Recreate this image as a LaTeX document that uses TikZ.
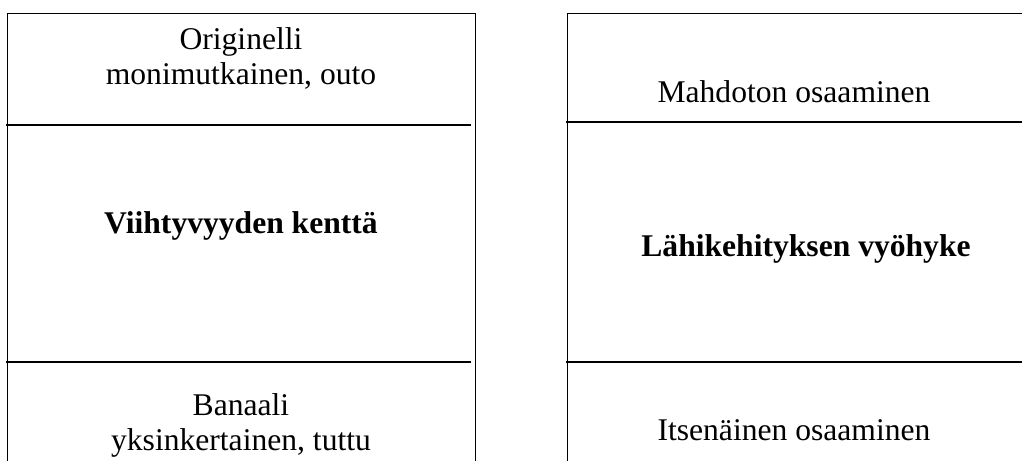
\documentclass[tikz,border=0pt]{standalone}
\usepackage{fontspec}
\setmainfont{Liberation Serif}
\begin{document}
\begin{tikzpicture}[x=1pt,y=-1pt,
  frame/.style={line width=1pt},
  divider/.style={line width=1.6pt},
  txt/.style={font=\fontsize{31.6}{36}\selectfont, anchor=base, inner sep=0pt},
  head/.style={font=\fontsize{31.6}{36}\selectfont\bfseries, anchor=base, inner sep=0pt}]
\useasboundingbox (0,0) rectangle (1022,461);

% left column frame
\draw[frame] (7,461) -- (7,13) -- (475,13) -- (475,461);
\draw[divider] (6,125) -- (471,125);
\draw[divider] (6,362) -- (471,362);

% right column frame
\draw[frame] (567,461) -- (567,13) -- (1022,13);
\draw[divider] (566,122) -- (1022,122);
\draw[divider] (566,362) -- (1022,362);

% left column texts
\node[txt]  (l1a) at (241,49)  {Originelli};
\node[txt]  (l1b) at (241,84)  {monimutkainen, outo};
\node[head] (l2)  at (241,233) {Viihtyvyyden kenttä};
\node[txt]  (l3a) at (241,415) {Banaali};
\node[txt]  (l3b) at (241,450) {yksinkertainen, tuttu};

% right column texts
\node[txt]  (r1) at (794,102) {Mahdoton osaaminen};
\node[head] (r2) at (806,256) {Lähikehityksen vyöhyke};
\node[txt]  (r3) at (794,440) {Itsenäinen osaaminen};
\end{tikzpicture}
\end{document}
